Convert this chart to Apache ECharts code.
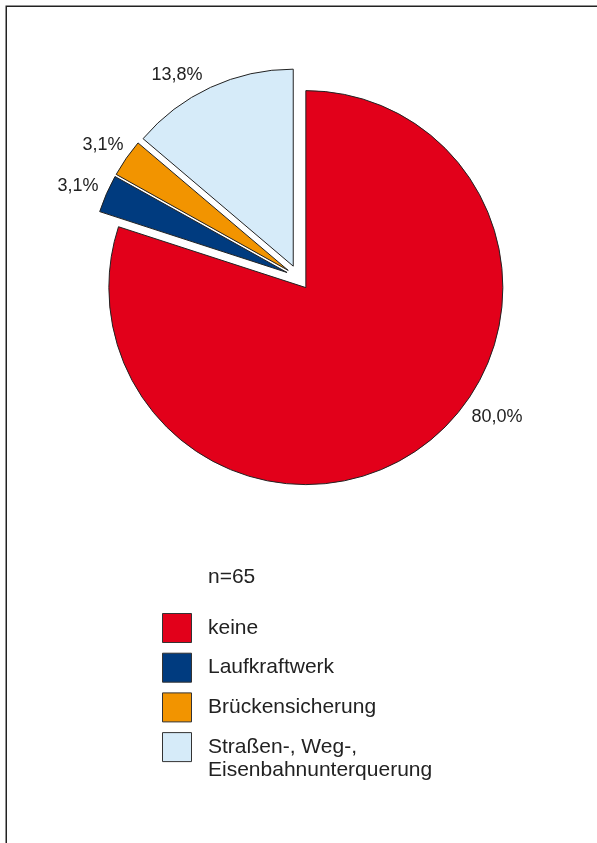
<!DOCTYPE html>
<html>
<head>
<meta charset="utf-8">
<script src="https://cdn.jsdelivr.net/npm/echarts@6/dist/echarts.min.js"></script>
<style>
  html, body { margin: 0; padding: 0; background: #fff; }
  #chart { width: 597px; height: 843px; }
</style>
</head>
<body>
<div id="chart"></div>
<script>
// Anteile der Maßnahmen (Prozent), n = 65
const categories = ['keine', 'Laufkraftwerk', 'Brückensicherung', 'Straßen-, Weg-,\nEisenbahnunterquerung'];
const shares = [80.0, 3.1, 3.1, 13.8];
const colors = ['#E2001A', '#003B7F', '#F29400', '#D6EBF9'];
const sampleSize = 65;

// Centre point of each percentage label
const labelAnchors = [[497, 417], [78, 186], [103, 145], [177, 75]];

const FONT = '"Liberation Sans", Arial, Helvetica, sans-serif';
const TEXT = '#222';

const fmtPercent = v => v.toFixed(1).replace('.', ',') + '%';

const chart = echarts.init(document.getElementById('chart'), null, { renderer: 'canvas' });

// Frame around the figure
const graphics = [{
  type: 'rect',
  z: -1,
  silent: true,
  shape: { x: 6.25, y: 6.25, width: 800, height: 1000 },
  style: { fill: 'none', stroke: '#222', lineWidth: 1.5 }
}];

// Percentage labels next to the slices
shares.forEach((v, i) => {
  graphics.push({
    type: 'text',
    silent: true,
    x: labelAnchors[i][0],
    y: labelAnchors[i][1],
    style: {
      text: fmtPercent(v),
      font: '18px ' + FONT,
      fill: TEXT,
      align: 'center',
      verticalAlign: 'middle'
    }
  });
});

// Sample size note and legend
const legendLeft = 162;
const legendTop = 613;
const legendStep = 39.7;

graphics.push({
  type: 'text',
  silent: true,
  x: 208,
  y: 577,
  style: { text: 'n=' + sampleSize, font: '21px ' + FONT, fill: TEXT, verticalAlign: 'middle' }
});

categories.forEach((name, i) => {
  const top = legendTop + i * legendStep;
  graphics.push({
    type: 'rect',
    silent: true,
    shape: { x: legendLeft + 0.5, y: top + 0.5, width: 29, height: 29 },
    style: { fill: colors[i], stroke: '#333', lineWidth: 1 }
  });
  graphics.push({
    type: 'text',
    silent: true,
    x: legendLeft + 46,
    y: top + 3.5,
    style: {
      text: name,
      font: '21px ' + FONT,
      lineHeight: 23,
      fill: TEXT,
      verticalAlign: 'top'
    }
  });
});

chart.setOption({
  animation: false,
  backgroundColor: '#fff',
  graphic: graphics,
  series: [{
    type: 'pie',
    center: [298.5, 277.5],
    radius: 197,
    startAngle: 90,
    clockwise: true,
    selectedMode: 'multiple',
    selectedOffset: 12.5,
    avoidLabelOverlap: false,
    silent: true,
    itemStyle: { borderColor: '#222', borderWidth: 1 },
    label: { show: false },
    labelLine: { show: false },
    emphasis: { disabled: true },
    data: categories.map((name, i) => ({
      name: name,
      value: shares[i],
      selected: true,
      itemStyle: { color: colors[i] }
    }))
  }]
});
</script>
</body>
</html>
